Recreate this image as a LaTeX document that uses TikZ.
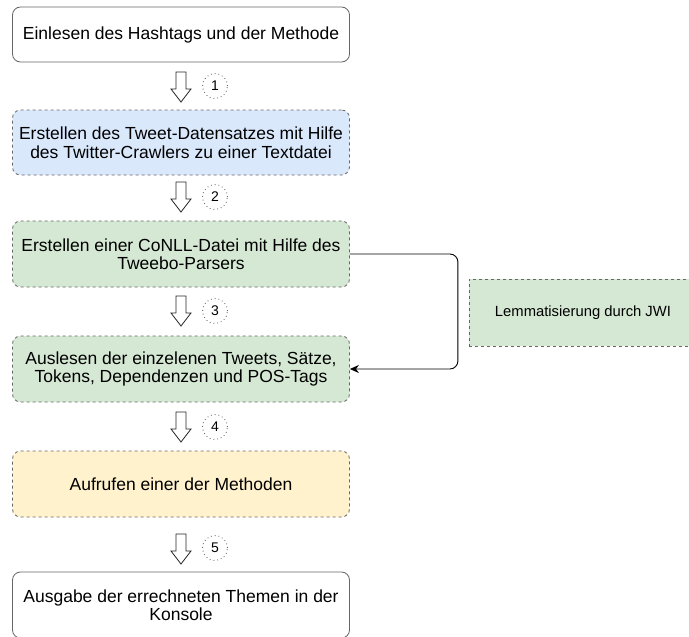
\documentclass[tikz,border=0pt]{standalone}
\usepackage{fontspec}
\setmainfont{Liberation Sans}
\usetikzlibrary{arrows.meta}
\definecolor{bord}{HTML}{666666}
\definecolor{bluef}{HTML}{DAE8FC}
\definecolor{greenf}{HTML}{D5E8D4}
\definecolor{yellowf}{HTML}{FFF2CC}
\tikzset{
  box/.style={draw=bord, rounded corners=8pt, minimum width=337pt, align=center,
    font=\fontsize{17.5}{18.5}\selectfont, inner sep=0pt, line width=0.8pt, fill=white},
  dbox/.style={box, dash pattern=on 3pt off 3pt},
  circ/.style={circle, draw=bord, dash pattern=on 0.8pt off 3pt, line width=0.9pt,
    minimum size=25pt, inner sep=0pt, font=\fontsize{14}{14}\selectfont},
  blockarrow/.pic={\draw[fill=white, draw=black!85, line width=0.8pt]
    (-5,0) -- (-5,17) -- (-10,17) -- (0,30) -- (10,17) -- (5,17) -- (5,0) -- cycle;},
  conn/.style={-{Stealth[length=9pt,width=8pt]}, line width=0.9pt, rounded corners=8pt}
}
\begin{document}
\begin{tikzpicture}[x=1pt,y=-1pt]
\useasboundingbox (0,0) rectangle (689,637);
\node[box, minimum height=55pt] (b1) at (181,34.5) {Einlesen des Hashtags und der Methode};
\node[dbox, fill=bluef, minimum height=65pt] (b2) at (181,142.5) {Erstellen des Tweet-Datensatzes mit Hilfe\\des Twitter-Crawlers zu einer Textdatei};
\node[dbox, fill=greenf, minimum height=66pt] (b3) at (181,254) {Erstellen einer CoNLL-Datei mit Hilfe des\\Tweebo-Parsers};
\node[dbox, fill=greenf, minimum height=66pt] (b4) at (181,369) {Auslesen der einzelenen Tweets, Sätze,\\Tokens, Dependenzen und POS-Tags};
\node[dbox, fill=yellowf, minimum height=66pt] (b5) at (181,484) {Aufrufen einer der Methoden};
\node[box, minimum height=66pt] (b6) at (181,605) {Ausgabe der errechneten Themen in der\\Konsole};
\node[draw=bord, dash pattern=on 3pt off 3pt, line width=0.8pt, fill=greenf,
  minimum width=228pt, minimum height=67pt, inner sep=0pt,
  font=\fontsize{14.8}{16}\selectfont] (lem) at (583,312.5) {Lemmatisierung durch JWI};
\pic at (181,72) {blockarrow};
\pic at (181,182) {blockarrow};
\pic at (181,296) {blockarrow};
\pic at (181,412) {blockarrow};
\pic at (181,534) {blockarrow};
\node[circ] (c1) at (215,86) {1};
\node[circ] (c2) at (215,197) {2};
\node[circ] (c3) at (215,311) {3};
\node[circ] (c4) at (215,427) {4};
\node[circ] (c5) at (215,548) {5};
\draw[conn] (b3.east) -- ++(108,0) |- (b4.east);
\end{tikzpicture}
\end{document}
